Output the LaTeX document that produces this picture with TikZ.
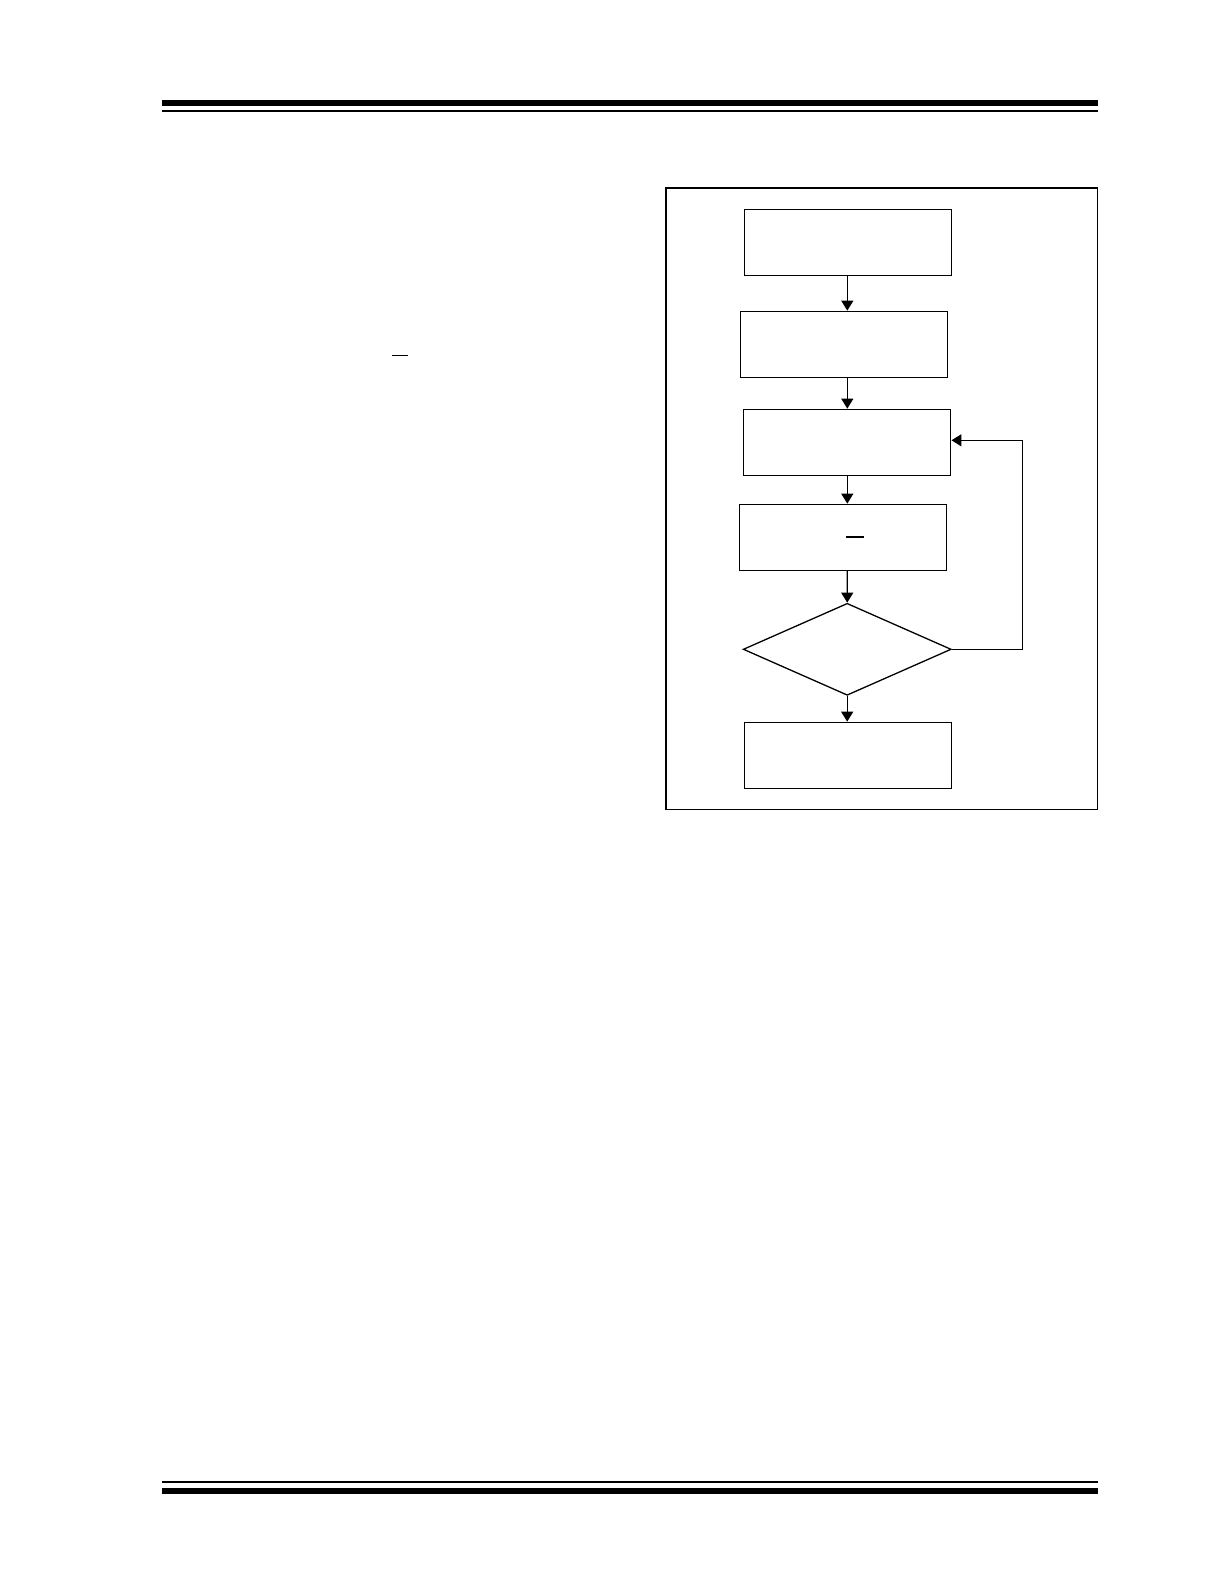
\documentclass[tikz,border=0pt]{standalone}
\usepackage{tikz}
\usetikzlibrary{shapes,shapes.geometric,calc}
\usetikzlibrary{arrows.meta}

\begin{document}
\begin{tikzpicture}[x=1pt, y=-1pt]
	\tikzstyle{process} = [rectangle, minimum width=207pt, minimum height=66pt, inner sep=0pt, line width=1.3pt, draw=black]
	\tikzstyle{decision} = [diamond, minimum width=208pt, minimum height=92pt, inner sep=0pt, line width=1.3pt, draw=black]
	\tikzstyle{arrow} = [line width=1.3pt, -{Triangle[length=10pt,width=12pt]}]
	\tikzstyle{rule} = [line width=#1, draw=black]

	\useasboundingbox (0,0) rectangle (1224,1584);

	% page rules
	\draw [rule=6pt] (162,103) -- (1098,103);
	\draw [rule=2pt] (162,111) -- (1098,111);
	\draw [rule=2pt] (162,1482) -- (1098,1482);
	\draw [rule=6pt] (162,1491) -- (1098,1491);
	\draw [rule=1.4pt] (392,355.7) -- (408,355.7);

	% frame
	\draw [line width=1.3pt] (666,188) rectangle (1097.5,809.3);

	\node (init) [process] at (848,242.3) {};
	\node (setup) [process] at (843.8,344.3) {};
	\node (wait) [process] at (847.3,442.3) {};
	\node (clear) [process] at (842.8,537.3) {};
	\node (check) [decision] at (847.2,649.3) {};
	\node (done) [process] at (848,755.3) {};
	\coordinate (loop) at (1022.3,440.3);

	\draw [rule=1.6pt] (846,537) -- (864,537);

	\draw [arrow] (847.3,0 |- init.south) -- (847.3,0 |- setup.north);
	\draw [arrow] (847.3,0 |- setup.south) -- (847.3,0 |- wait.north);
	\draw [arrow] (847.3,0 |- wait.south) -- (847.3,0 |- clear.north);
	\draw [arrow] (847.3,0 |- clear.south) -- (check.north);
	\draw [arrow] (check.south) -- (check.south |- done.north);
	\draw [arrow] (check.east) -| (loop) -- (loop -| wait.east);
\end{tikzpicture}
\end{document}
